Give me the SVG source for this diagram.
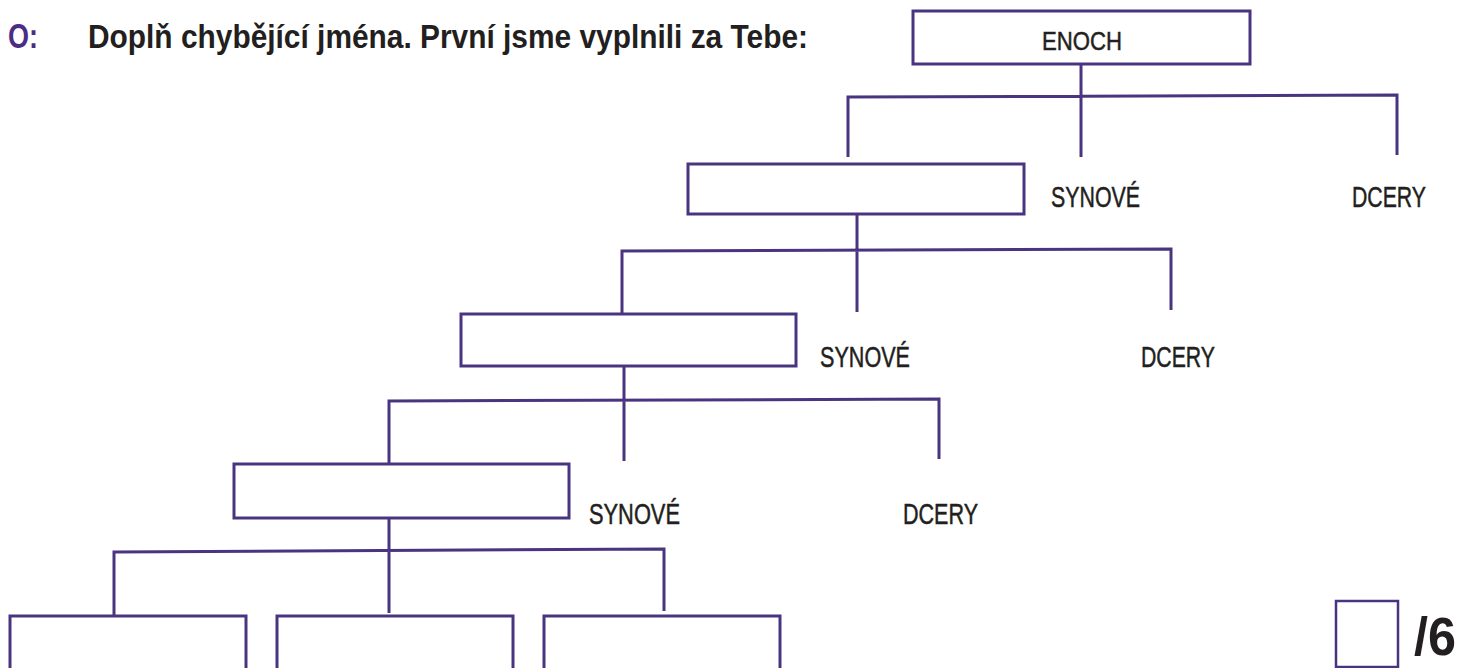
<svg xmlns="http://www.w3.org/2000/svg" width="1460" height="668" viewBox="0 0 1460 668">
<style>
.box{fill:#fff;stroke:#4a3480;stroke-width:3}
.ln{fill:none;stroke:#4a3480;stroke-width:3}
.lbl{font-family:"Liberation Sans",Arial,sans-serif;font-size:29px;fill:#231f20;stroke:#231f20;stroke-width:0.5}
.title{font-family:"Liberation Sans",Arial,sans-serif;font-weight:bold;font-size:33px;fill:#231f20}
</style>
<rect width="1460" height="668" fill="#fff"/>
<g id="title">
<text x="8" y="48" class="title" style="fill:#4b2d83;font-size:35px" textLength="30" lengthAdjust="spacingAndGlyphs">O:</text>
<text x="88" y="48" class="title" textLength="720" lengthAdjust="spacingAndGlyphs">Doplň chybějící jména. První jsme vyplnili za Tebe:</text>
</g>
<g id="connectors">
<path class="ln" d="M1081 64V157M848 157V97L1397 95V155"/>
<path class="ln" d="M857 214V312M622 314V251L1171 249V310"/>
<path class="ln" d="M624 366V461M389 464V401L939 399V459"/>
<path class="ln" d="M389 518V613M114 616V552L664 549V611"/>
</g>
<g id="enoch">
<rect class="box" x="913" y="11" width="337" height="53"/>
<text x="1082" y="50" class="lbl" style="font-size:26px" text-anchor="middle" textLength="80" lengthAdjust="spacingAndGlyphs">ENOCH</text>
</g>
<g id="gen1">
<rect class="box" x="688" y="164" width="336" height="50"/>
<text x="1051" y="207" class="lbl" textLength="89" lengthAdjust="spacingAndGlyphs">SYNOVÉ</text>
<text x="1352" y="207" class="lbl" textLength="74" lengthAdjust="spacingAndGlyphs">DCERY</text>
</g>
<g id="gen2">
<rect class="box" x="461" y="314" width="335" height="52"/>
<text x="820" y="367" class="lbl" textLength="90" lengthAdjust="spacingAndGlyphs">SYNOVÉ</text>
<text x="1141" y="367" class="lbl" textLength="74" lengthAdjust="spacingAndGlyphs">DCERY</text>
</g>
<g id="gen3">
<rect class="box" x="234" y="464" width="335" height="54"/>
<text x="589" y="524" class="lbl" textLength="91" lengthAdjust="spacingAndGlyphs">SYNOVÉ</text>
<text x="903" y="524" class="lbl" textLength="75" lengthAdjust="spacingAndGlyphs">DCERY</text>
</g>
<g id="gen4a"><rect class="box" x="10" y="616" width="236" height="70"/></g>
<g id="gen4b"><rect class="box" x="277" y="616" width="236" height="70"/></g>
<g id="gen4c"><rect class="box" x="544" y="616" width="236" height="70"/></g>
<g id="score">
<rect x="1336" y="601" width="62" height="66" fill="#fff" stroke="#4a3480" stroke-width="2.5"/>
<text x="1414" y="655" class="title" style="font-size:54px" textLength="42" lengthAdjust="spacingAndGlyphs">/6</text>
</g>
</svg>
